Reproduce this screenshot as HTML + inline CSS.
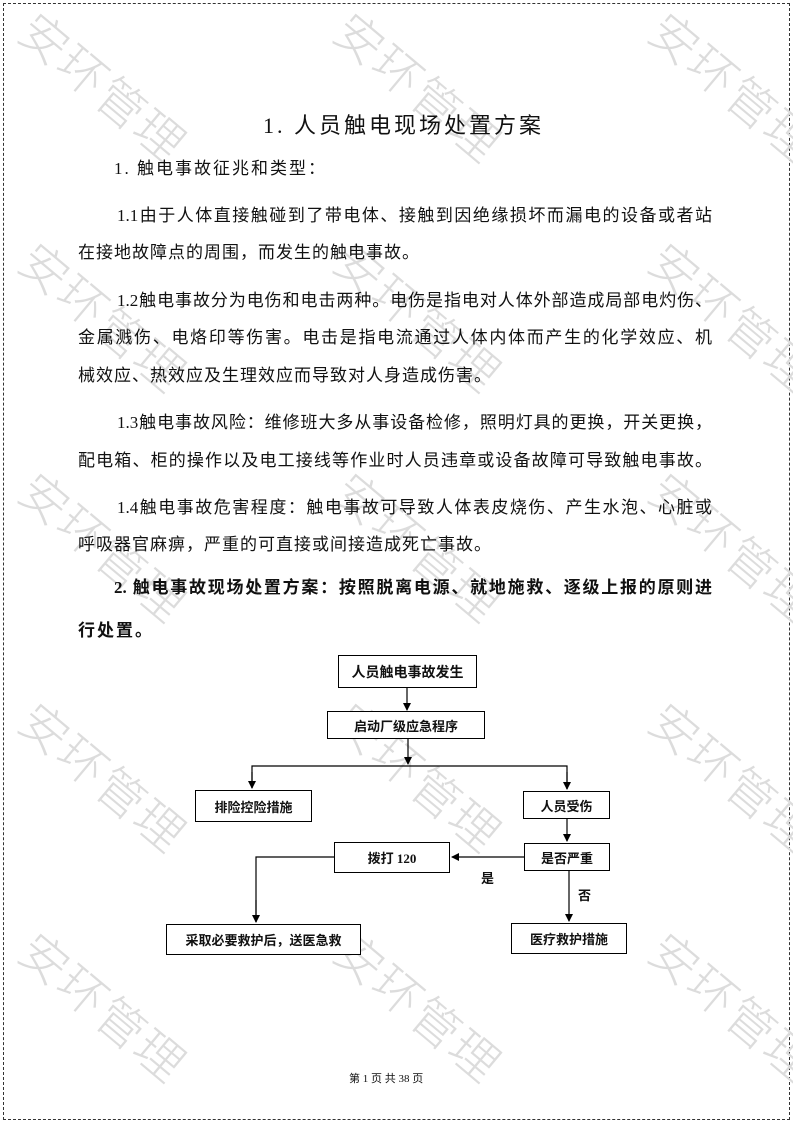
<!DOCTYPE html>
<html><head><meta charset="utf-8"><style>
body{margin:0;background:#fff;}
#p{position:relative;width:793px;height:1122px;overflow:hidden;font-family:"Liberation Serif","Noto Serif CJK SC","Noto Sans CJK SC",serif;color:#111;}
.bd{position:absolute;left:3px;top:3px;width:785px;height:1115px;border:1px dashed #333;}
.wm{position:absolute;font-family:"Noto Sans CJK SC",sans-serif;font-size:48px;color:#dcdcdc;transform:rotate(40deg);transform-origin:center;white-space:nowrap;letter-spacing:2px;font-weight:300;}
.l{position:absolute;font-size:17px;white-space:nowrap;font-family:"Liberation Serif","Noto Sans CJK SC",sans-serif;}
.j{text-align:justify;text-align-last:justify;}
.b{position:absolute;border:1.3px solid #000;font-family:"Liberation Serif","Noto Sans CJK SC",sans-serif;font-weight:bold;font-size:13px;display:flex;align-items:center;justify-content:center;box-sizing:border-box;background:#fff;}
</style></head><body><div id="p">
<div class="bd"></div>
<div class="wm" style="left:5px;top:50px">安环管理</div>
<div class="wm" style="left:320px;top:50px">安环管理</div>
<div class="wm" style="left:635px;top:50px">安环管理</div>
<div class="wm" style="left:5px;top:280px">安环管理</div>
<div class="wm" style="left:320px;top:280px">安环管理</div>
<div class="wm" style="left:635px;top:280px">安环管理</div>
<div class="wm" style="left:5px;top:510px">安环管理</div>
<div class="wm" style="left:320px;top:510px">安环管理</div>
<div class="wm" style="left:635px;top:510px">安环管理</div>
<div class="wm" style="left:5px;top:740px">安环管理</div>
<div class="wm" style="left:320px;top:740px">安环管理</div>
<div class="wm" style="left:635px;top:740px">安环管理</div>
<div class="wm" style="left:5px;top:970px">安环管理</div>
<div class="wm" style="left:320px;top:970px">安环管理</div>
<div class="wm" style="left:635px;top:970px">安环管理</div>

<div class="l" style="left:263px;top:108px;font-size:22px;letter-spacing:3px">1. 人员触电现场处置方案</div>
<div class="l" style="left:114px;top:154px;letter-spacing:2px">1. 触电事故征兆和类型：</div>
<div class="l j" style="left:117px;top:201px;width:595px">1.1由于人体直接触碰到了带电体、接触到因绝缘损坏而漏电的设备或者站</div>
<div class="l" style="left:78px;top:238px;letter-spacing:1px">在接地故障点的周围，而发生的触电事故。</div>
<div class="l j" style="left:117px;top:286px;width:595px">1.2触电事故分为电伤和电击两种。电伤是指电对人体外部造成局部电灼伤、</div>
<div class="l j" style="left:78px;top:323px;width:634px">金属溅伤、电烙印等伤害。电击是指电流通过人体内体而产生的化学效应、机</div>
<div class="l" style="left:78px;top:361px;letter-spacing:1px">械效应、热效应及生理效应而导致对人身造成伤害。</div>
<div class="l j" style="left:117px;top:408px;width:595px">1.3触电事故风险：维修班大多从事设备检修，照明灯具的更换，开关更换，</div>
<div class="l j" style="left:78px;top:446px;width:634px">配电箱、柜的操作以及电工接线等作业时人员违章或设备故障可导致触电事故。</div>
<div class="l j" style="left:117px;top:493px;width:595px">1.4触电事故危害程度：触电事故可导致人体表皮烧伤、产生水泡、心脏或</div>
<div class="l" style="left:78px;top:530px;letter-spacing:1px">呼吸器官麻痹，严重的可直接或间接造成死亡事故。</div>
<div class="l j" style="left:114px;top:573px;width:598px;font-weight:bold">2. 触电事故现场处置方案：按照脱离电源、就地施救、逐级上报的原则进</div>
<div class="l" style="left:78px;top:616px;letter-spacing:2px;font-weight:bold">行处置。</div>

<svg style="position:absolute;left:0;top:0" width="793" height="1122">
<defs><marker id="a" markerWidth="8" markerHeight="8" refX="7" refY="4" orient="auto" markerUnits="userSpaceOnUse"><path d="M0,0L8,4L0,8z" fill="#000"/></marker></defs>
<g stroke="#000" stroke-width="1.2" fill="none">
<line x1="407" y1="688" x2="407" y2="710" marker-end="url(#a)"/>
<line x1="408" y1="739" x2="408" y2="764" marker-end="url(#a)"/>
<polyline points="252,788 252,766 567,766 567,789"/>
<line x1="252" y1="772" x2="252" y2="788" marker-end="url(#a)"/>
<line x1="567" y1="772" x2="567" y2="789" marker-end="url(#a)"/>
<line x1="567" y1="819" x2="567" y2="841" marker-end="url(#a)"/>
<line x1="524" y1="857" x2="452" y2="857" marker-end="url(#a)"/>
<polyline points="334,857 256,857 256,922"/>
<line x1="256" y1="900" x2="256" y2="922" marker-end="url(#a)"/>
<line x1="569" y1="871" x2="569" y2="921" marker-end="url(#a)"/>
</g></svg>
<div class="b" style="left:338px;top:655px;width:139px;height:33px;font-size:14px">人员触电事故发生</div>
<div class="b" style="left:327px;top:711px;width:158px;height:28px">启动厂级应急程序</div>
<div class="b" style="left:195px;top:790px;width:117px;height:32px">排险控险措施</div>
<div class="b" style="left:523px;top:791px;width:87px;height:28px">人员受伤</div>
<div class="b" style="left:524px;top:843px;width:86px;height:28px">是否严重</div>
<div class="b" style="left:334px;top:842px;width:116px;height:31px">拨打 120</div>
<div class="b" style="left:166px;top:924px;width:195px;height:31px">采取必要救护后，送医急救</div>
<div class="b" style="left:511px;top:923px;width:116px;height:31px">医疗救护措施</div>
<div class="l" style="left:481px;top:868px;font-size:13px;font-weight:bold">是</div>
<div class="l" style="left:578px;top:885px;font-size:13px;font-weight:bold">否</div>
<div class="l" style="left:349px;top:1070px;font-size:11px">第 1 页 共 38 页</div>
</div></body></html>
